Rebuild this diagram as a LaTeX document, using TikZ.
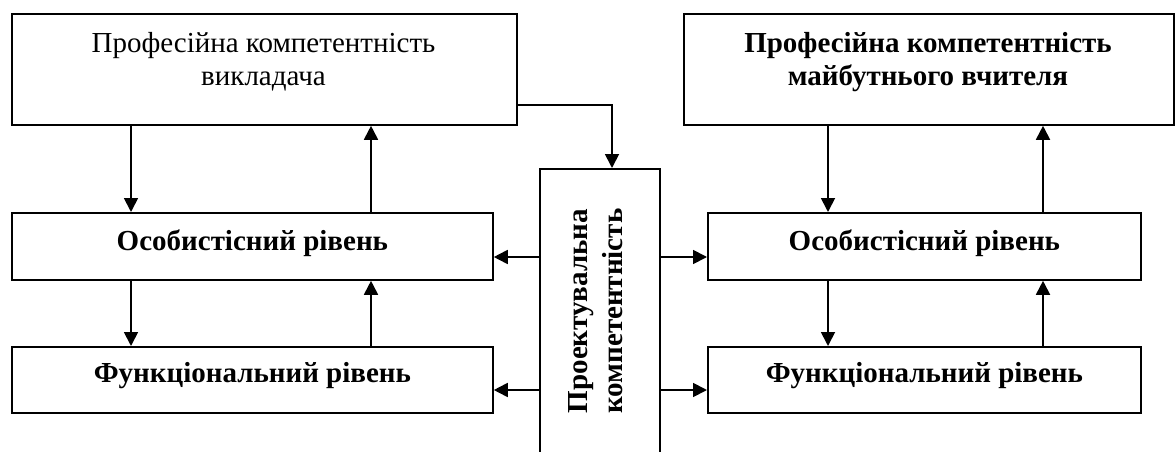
\documentclass[tikz,border=0pt]{standalone}
\usepackage{fontspec}
\setmainfont{Liberation Serif}
\usetikzlibrary{arrows.meta}
\begin{document}
\begin{tikzpicture}[x=1pt,y=-1pt,
  box/.style={draw, line width=1.8pt, rectangle, inner sep=0pt, anchor=north west},
  txt/.style={font=\fontsize{29}{33}\selectfont, align=center, inner sep=0pt},
  btxt/.style={font=\fontsize{29}{33}\selectfont\bfseries, align=center, inner sep=0pt},
  arr/.style={line width=1.8pt, -{Triangle[length=14pt,width=14pt]}}]
\useasboundingbox (0,0) rectangle (1175,452);
\clip (0,0) rectangle (1175,452);
% boxes
\node[box, minimum width=505pt, minimum height=111pt] (tl) at (11,13) {};
\node[box, minimum width=490pt, minimum height=111pt] (tr) at (683,13) {};
\node[box, minimum width=481pt, minimum height=67pt, btxt, text height=20pt, text depth=11pt] (ol) at (11,212) {Особистісний рівень};
\node[box, minimum width=481pt, minimum height=66pt, btxt, text height=20pt, text depth=15pt] (fl) at (11,346) {Функціональний рівень};
\node[box, minimum width=433pt, minimum height=67pt, btxt, text height=20pt, text depth=11pt] (or) at (707,212) {Особистісний рівень};
\node[box, minimum width=433pt, minimum height=66pt, btxt, text height=20pt, text depth=15pt] (fr) at (707,346) {Функціональний рівень};
\node[box, minimum width=120pt, minimum height=290pt] (cb) at (539,168) {};
% texts
\node[txt, anchor=north] (tlt) at (263.5,32) {Професійна компетентність\\викладача};
\node[btxt, anchor=north] (trt) at (928,32) {Професійна компетентність\\майбутнього вчителя};
\node[btxt, font=\fontsize{29}{35}\selectfont\bfseries, rotate=90] (cbt) at (595.5,311) {Проектувальна\\компетентність};
% helper coordinates
\coordinate (xl1) at (131,0);
\coordinate (xl2) at (371,0);
\coordinate (xr1) at (828,0);
\coordinate (xr2) at (1043,0);
\coordinate (xc) at (612,0);
\coordinate (yt) at (0,105);
\coordinate (y1) at (0,257);
\coordinate (y2) at (0,390);
% connectors
\draw[arr] (tl.south -| xl1) -- (ol.north -| xl1);
\draw[arr] (ol.north -| xl2) -- (tl.south -| xl2);
\draw[arr] (ol.south -| xl1) -- (fl.north -| xl1);
\draw[arr] (fl.north -| xl2) -- (ol.south -| xl2);
\draw[arr] (tr.south -| xr1) -- (or.north -| xr1);
\draw[arr] (or.north -| xr2) -- (tr.south -| xr2);
\draw[arr] (or.south -| xr1) -- (fr.north -| xr1);
\draw[arr] (fr.north -| xr2) -- (or.south -| xr2);
\draw[arr] (tl.east |- yt) -| (cb.north -| xc);
\draw[arr] (cb.west |- y1) -- (ol.east |- y1);
\draw[arr] (cb.west |- y2) -- (fl.east |- y2);
\draw[arr] (cb.east |- y1) -- (or.west |- y1);
\draw[arr] (cb.east |- y2) -- (fr.west |- y2);
\end{tikzpicture}
\end{document}
